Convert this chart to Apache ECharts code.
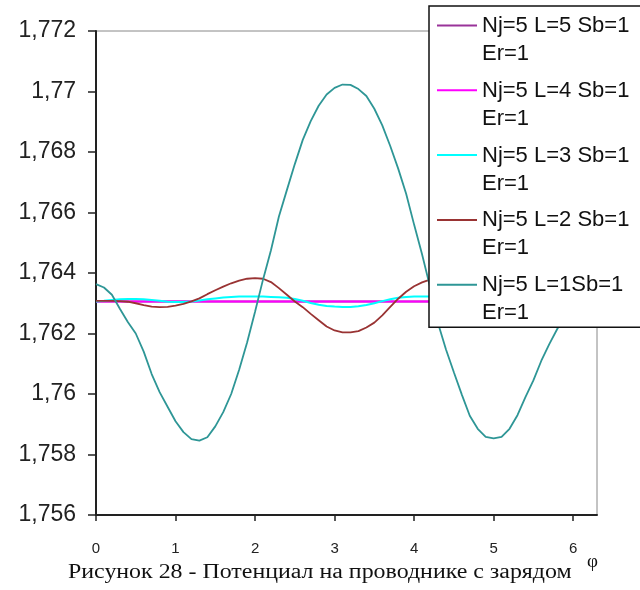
<!DOCTYPE html>
<html>
<head>
<meta charset="utf-8">
<script src="https://cdn.jsdelivr.net/npm/echarts@6/dist/echarts.min.js"></script>
<style>
  html, body { margin: 0; padding: 0; background: #fff; }
  #chart { width: 640px; height: 590px; }
</style>
</head>
<body>
<div id="chart"></div>
<script>
// Angle along the conductor (rad)
const phi = [0, 0.1, 0.2, 0.3, 0.4, 0.5, 0.6, 0.7, 0.8, 0.9,
  1.0, 1.1, 1.2, 1.3, 1.4, 1.5, 1.6, 1.7, 1.8, 1.9,
  2.0, 2.1, 2.2, 2.3, 2.4, 2.5, 2.6, 2.7, 2.8, 2.9,
  3.0, 3.1, 3.2, 3.3, 3.4, 3.5, 3.6, 3.7, 3.8, 3.9,
  4.0, 4.1, 4.2, 4.3, 4.4, 4.5, 4.6, 4.7, 4.8, 4.9,
  5.0, 5.1, 5.2, 5.3, 5.4, 5.5, 5.6, 5.7, 5.8, 5.9,
  6.0, 6.1, 6.2, 6.28];
const phiFlat = [0, 1, 2, 3, 4, 5, 6, 6.28];

// Potential for L = 5 and L = 4 (flat)
const potL5 = [1.76306, 1.76306, 1.76306, 1.76306, 1.76306, 1.76306, 1.76306, 1.76306];
const potL4 = [1.76306, 1.76306, 1.76306, 1.76306, 1.76306, 1.76306, 1.76306, 1.76306];

// Potential for L = 3
const potL3 = [1.76306, 1.76308, 1.76311, 1.76313, 1.76314, 1.76314, 1.76313, 1.76311, 1.76308, 1.76305,
  1.76304, 1.76304, 1.76306, 1.76309, 1.76313, 1.76316, 1.76319, 1.76321, 1.76322, 1.76322,
  1.76322, 1.76322, 1.76321, 1.76320, 1.76318, 1.76314, 1.76308, 1.76301, 1.76295, 1.76291,
  1.76289, 1.76288, 1.76288, 1.76290, 1.76294, 1.76300, 1.76307, 1.76313, 1.76318, 1.76321,
  1.76322, 1.76322, 1.76322, 1.76322, 1.76321, 1.76319, 1.76316, 1.76313, 1.76309, 1.76306,
  1.76304, 1.76304, 1.76305, 1.76308, 1.76311, 1.76313, 1.76314, 1.76314, 1.76313, 1.76311,
  1.76308, 1.76307, 1.76306, 1.76306];

// Potential for L = 2
const potL2 = [1.76308, 1.76308, 1.76308, 1.76307, 1.76305, 1.76300, 1.76294, 1.76289, 1.76287, 1.76288,
  1.76292, 1.76298, 1.76306, 1.76316, 1.76330, 1.76343, 1.76355, 1.76366, 1.76375, 1.76381,
  1.76383, 1.76381, 1.76370, 1.76350, 1.76328, 1.76306, 1.76287, 1.76265, 1.76244, 1.76223,
  1.76210, 1.76204, 1.76204, 1.76208, 1.76220, 1.76236, 1.76260, 1.76288, 1.76315, 1.76338,
  1.76356, 1.76369, 1.76378, 1.76383, 1.76380, 1.76373, 1.76362, 1.76348, 1.76330, 1.76314,
  1.76302, 1.76294, 1.76289, 1.76287, 1.76288, 1.76293, 1.76299, 1.76304, 1.76307, 1.76308,
  1.76308, 1.76308, 1.76308, 1.76308];

// Potential for L = 1
const potL1 = [1.76363, 1.76352, 1.76328, 1.76282, 1.76238, 1.76200, 1.76140, 1.76066, 1.76006, 1.75958,
  1.75910, 1.75874, 1.75851, 1.75846, 1.75857, 1.75893, 1.75940, 1.76000, 1.76080, 1.76170,
  1.76272, 1.76378, 1.76475, 1.76587, 1.76674, 1.76760, 1.76840, 1.76902, 1.76953, 1.76990,
  1.77012, 1.77023, 1.77022, 1.77008, 1.76985, 1.76943, 1.76888, 1.76820, 1.76745, 1.76662,
  1.76560, 1.76462, 1.76355, 1.76235, 1.76148, 1.76072, 1.75998, 1.75928, 1.75885, 1.75858,
  1.75853, 1.75858, 1.75885, 1.75930, 1.75990, 1.76045, 1.76110, 1.76165, 1.76215, 1.76258,
  1.76296, 1.76328, 1.76352, 1.76363];

const seriesNames = [
  'Nj=5 L=5 Sb=1\nEr=1',
  'Nj=5 L=4 Sb=1\nEr=1',
  'Nj=5 L=3 Sb=1\nEr=1',
  'Nj=5 L=2 Sb=1\nEr=1',
  'Nj=5 L=1Sb=1\nEr=1'
];
const seriesColors = ['#993399', '#FF00FF', '#00FFFF', '#993333', '#2E9696'];
const seriesX = [phiFlat, phiFlat, phi, phi, phi];
const seriesY = [potL5, potL4, potL3, potL2, potL1];

const captionText = 'Рисунок 28 - Потенциал на проводнике с зарядом';
const axisNameText = 'φ';

const chart = echarts.init(document.getElementById('chart'), null, { renderer: 'canvas' });

// legend mark: short stroke aligned with the first text line
const legendIcon = 'path://M0,0H40V2H0Z M0,31L0,31';

chart.setOption({
  animation: false,
  backgroundColor: '#ffffff',
  grid: {
    left: 96, right: 43, top: 31, bottom: 75,
    show: true, borderColor: '#888888', borderWidth: 1, backgroundColor: 'transparent'
  },
  xAxis: {
    type: 'value', min: 0, max: 6.3, interval: 1,
    axisLine: { show: true, onZero: false, lineStyle: { color: '#222', width: 2 } },
    axisTick: { show: true, length: 6, lineStyle: { color: '#222', width: 1.5 } },
    splitLine: { show: false },
    axisLabel: {
      showMaxLabel: false, margin: 26, color: '#222',
      fontFamily: '"Liberation Sans", Arial, sans-serif', fontSize: 15
    }
  },
  yAxis: {
    type: 'value', min: 1.756, max: 1.772, interval: 0.002,
    axisLine: { show: true, lineStyle: { color: '#222', width: 2 } },
    axisTick: { show: true, length: 8, lineStyle: { color: '#222', width: 1.5 } },
    splitLine: { show: false },
    axisLabel: {
      margin: 20, color: '#222',
      fontFamily: '"Liberation Sans", Arial, sans-serif', fontSize: 23,
      formatter: v => String(+v.toFixed(3)).replace('.', ',')
    }
  },
  legend: {
    orient: 'vertical',
    left: 429, top: 6,
    z: 20,
    padding: [6, 40, 0, 8],
    itemWidth: 40, itemHeight: 31, itemGap: 8.8,
    icon: legendIcon,
    itemStyle: { borderWidth: 0 },
    backgroundColor: '#ffffff',
    borderColor: '#111', borderWidth: 1.5,
    selectedMode: false,
    textStyle: {
      color: '#111', fontSize: 22, lineHeight: 28,
      fontFamily: '"Liberation Sans", Arial, sans-serif'
    },
    data: seriesNames
  },
  graphic: [
    {
      type: 'text', x: 68, y: 563, scaleX: 1.195,
      style: { text: captionText, fill: '#111', font: '20px "Liberation Serif", "Times New Roman", serif' }
    },
    {
      type: 'text', x: 587, y: 553,
      style: { text: axisNameText, fill: '#111', font: '19px "Liberation Serif", "Times New Roman", serif' }
    }
  ],
  series: seriesNames.map((name, k) => ({
    name: name,
    type: 'line',
    showSymbol: false,
    symbol: 'none',
    smooth: false,
    color: seriesColors[k],
    lineStyle: { color: seriesColors[k], width: k >= 3 ? 1.8 : 2 },
    data: seriesX[k].map((p, i) => [p, seriesY[k][i]]),
    z: 2 + k
  }))
});
</script>
</body>
</html>
